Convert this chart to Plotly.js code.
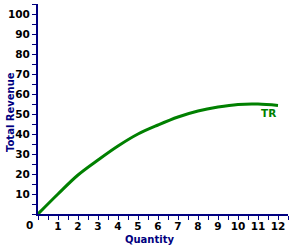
<!DOCTYPE html>
<html>
<head>
<meta charset="utf-8">
<script src="https://cdn.plot.ly/plotly-3.0.1.min.js"></script>
<style>html,body{margin:0;padding:0;background:#fff;}#chart{width:295px;height:250px;}</style>
</head>
<body>
<div id="chart"></div>
<script>
var quantity = [0, 1, 2, 3, 4, 5, 6, 7, 8, 9, 10, 11, 12];
var totalRevenue = [0, 10, 19.5, 27, 34, 40, 44.5, 48.5, 51.5, 53.5, 54.8, 55, 54.3];
var xTickVals = [1, 2, 3, 4, 5, 6, 7, 8, 9, 10, 11, 12];
var yTickVals = [10, 20, 30, 40, 50, 60, 70, 80, 90, 100];
var seriesLabel = 'TR';
var xTitle = 'Quantity';
var yTitle = 'Total Revenue';

var navy = '#000080';
var green = '#008000';
var tickFont = {family: 'DejaVu Sans', size: 10.5, color: '#000000', weight: 'bold'};

var trace = {
  x: quantity, y: totalRevenue, type: 'scatter', mode: 'lines',
  line: {color: green, width: 3, shape: 'spline'},
  hoverinfo: 'skip'
};

var layout = {
  width: 295, height: 250,
  margin: {l: 38, r: 7, t: 4, b: 36},
  paper_bgcolor: '#ffffff', plot_bgcolor: '#ffffff',
  showlegend: false,
  xaxis: {
    range: [0, 12.5], showgrid: false, zeroline: false,
    showline: true, linecolor: navy, linewidth: 2,
    tickmode: 'array', tickvals: xTickVals,
    ticks: 'outside', ticklen: 4, tickwidth: 1, tickcolor: navy,
    tickfont: tickFont, ticklabelstandoff: -3,
    minor: {dtick: 0.5, tick0: 0, ticks: 'outside', ticklen: 4, tickwidth: 1, tickcolor: navy, showgrid: false}
  },
  yaxis: {
    range: [0, 105], showgrid: false, zeroline: false,
    showline: true, linecolor: navy, linewidth: 2,
    tickmode: 'array', tickvals: yTickVals,
    ticks: 'outside', ticklen: 4, tickwidth: 1, tickcolor: navy,
    tickfont: tickFont,
    minor: {dtick: 5, tick0: 0, ticks: 'outside', ticklen: 4, tickwidth: 1, tickcolor: navy, showgrid: false}
  },
  annotations: [
    {x: 0, y: 0, xref: 'x', yref: 'y', text: '0', showarrow: false,
     xshift: -9, yshift: -11, font: tickFont},
    {x: 12, y: 50.6, xref: 'x', yref: 'y', text: seriesLabel, showarrow: false,
     xanchor: 'right', yanchor: 'middle',
     font: {family: 'DejaVu Sans', size: 10.5, color: green, weight: 'bold'}},
    {x: 0.5, y: 0, xref: 'paper', yref: 'paper', text: xTitle, showarrow: false,
     xanchor: 'center', yanchor: 'middle', xshift: -14, yshift: -25,
     font: {family: 'DejaVu Sans', size: 10, color: navy, weight: 'bold'}},
    {x: 0, y: 0.5, xref: 'paper', yref: 'paper', text: yTitle, showarrow: false,
     textangle: -90, xanchor: 'center', yanchor: 'middle', xshift: -28, yshift: -3,
     font: {family: 'DejaVu Sans', size: 10, color: navy, weight: 'bold'}}
  ]
};

Plotly.newPlot('chart', [trace], layout, {staticPlot: true, displayModeBar: false});
</script>
</body>
</html>
